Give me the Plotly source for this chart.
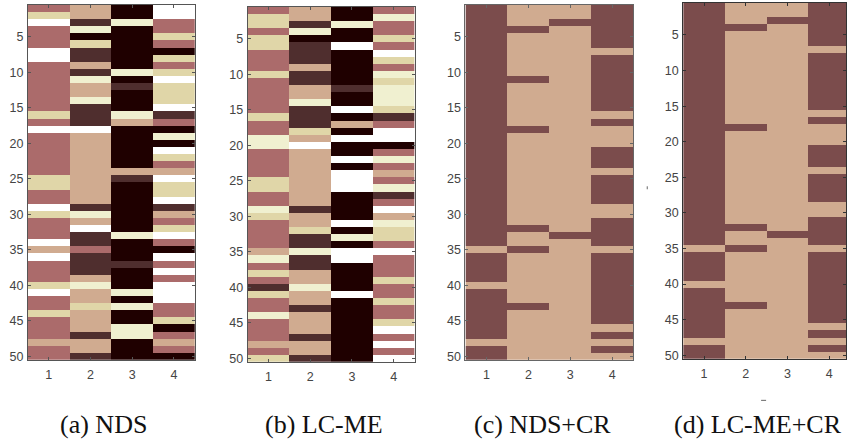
import plotly.graph_objects as go

W, H = 847, 442

# One letter per row (1..50) for each of the four columns.
# B black, D dark, R rose, T tan, K khaki, C cream, W white, M maroon
a_cols = [
    "RKWRRRWWRRRRRRRKRWRRRRRRKKRRWKRRRWTWRRRKWRRKRRRTRR",
    "TTDCBKDDTDCTTCDDDWTTTTTTTTTTDCTWDDRDDDTCTTKTTTDTTD",
    "BBCBBBBBBCBDBBBCTBBBBBBTDBBBBBBBCBBBDBBBCBCBBCCBBB",
    "WWRRKRBKRKWKKKWDRBCBWKRTWKKWDTRKWRBWRWRWWWRRKBRTRB",
]
b_cols = [
    "RKKRKKRRRKRRRRRKRRCCRRRRKKRRCKRRRRTCRKRDKRRCRRRTRK",
    "TTDCBDDDTDDTTCDDDKTWTTTTTTTTDTTKDDCDDTTCTTDTTTDTTD",
    "BBCBBWBBBBBDBBWBTBWBBWBWWWBBBBWBCBWWBBBBWBBBBBBBBB",
    "RCRRKRWKRCKCCCKDRWWBRCRTRCDRWTCKKRWRRRKRRKRRKWRWRW",
]
c_cols = [
    "MMMMMMMMMMMMMMMMMMMMMMMMMMMMMMMMMMTMMMMTMMMMMMMTMM",
    "TTTMTTTTTTMTTTTTTMTTTTTTTTTTTTTMTTMTTTTTTTMTTTTTTT",
    "TTMTTTTTTTTTTTTTTTTTTTTTTTTTTTTTMTTTTTTTTTTTTTTTTT",
    "MMMMMMTMMMMMMMMTMTTTMMMTMMMMTTMMMMTMMMMMMMMMMTMTMT",
]
d_cols = [
    "MMMMMMMMMMMMMMMMMMMMMMMMMMMMMMMMMMTMMMMTMMMMMMMTMM",
    "TTTMTTTTTTTTTTTTTMTTTTTTTTTTTTTMTTMTTTTTTTMTTTTTTT",
    "TTMTTTTTTTTTTTTTTTTTTTTTTTTTTTTTMTTTTTTTTTTTTTTTTT",
    "MMMMMMTMMMMMMMMTMTTTMMMTMMMMTTMMMMTMMMMMMMMMMTMTMT",
]
captions = ["(a) NDS", "(b) LC-ME", "(c) NDS+CR", "(d) LC-ME+CR"]
x_ticks = [1, 2, 3, 4]
y_ticks = [5, 10, 15, 20, 25, 30, 35, 40, 45, 50]
rows = list(range(1, 51))

levels = "BDMRTKCW"
colors = ["#1f0000", "#4f2e2e", "#7b4c4c", "#ab6b6b", "#d0ab90", "#e0d6a8", "#f0f0d0", "#ffffff"]
n = len(levels)
scale = []
for i, c in enumerate(colors):
    scale += [[i / n, c], [(i + 1) / n, c]]

# left, right, top, bottom (px), x upper limit, axis colour, caption centre
panels = [
    (a_cols, 28, 195, 5, 363, 4.5, "#555555", 104),
    (b_cols, 248, 415, 7, 365, 4.5, "#555555", 324),
    (c_cols, 466, 634, 5, 363, 4.5, "#666666", 543),
    (d_cols, 684, 847, 3, 362, 4.4, "#333333", 759),
]

fig = go.Figure()
for k, (cols, l, r, t, b, xmax, ac, cx) in enumerate(panels):
    for col in cols:
        assert len(col) == 50
    z = [[levels.index(cols[j][i]) for j in range(4)] for i in range(50)]
    s = "" if k == 0 else str(k + 1)
    fig.add_trace(go.Heatmap(z=z, x=x_ticks, y=rows, colorscale=scale, zmin=0, zmax=n,
                             showscale=False, xaxis="x" + s, yaxis="y" + s, hoverinfo="skip"))
    axis = dict(ticks="inside", ticklen=3, tickwidth=1, tickcolor=ac, showline=True, linecolor=ac,
                linewidth=1, mirror="ticks", showgrid=False, zeroline=False,
                tickfont=dict(family="Liberation Sans", size=12.5, color="#444444"))
    fig.layout["xaxis" + s] = dict(axis, domain=[l / W, r / W], range=[0.5, xmax], tickvals=x_ticks,
                                   anchor="y" + s, ticklabelstandoff=3)
    fig.layout["yaxis" + s] = dict(axis, domain=[1 - b / H, 1 - t / H], range=[50.5, 0.5], tickvals=y_ticks,
                                   anchor="x" + s, ticklabelstandoff=1)
    fig.add_annotation(text=captions[k], x=cx / W, y=1 - 428 / H, xref="paper", yref="paper",
                       showarrow=False, xanchor="center", yanchor="middle",
                       font=dict(family="Liberation Serif", size=26, color="#111111"))

fig.update_layout(width=W, height=H, margin=dict(l=0, r=0, t=0, b=0), autosize=False,
                  paper_bgcolor="white", plot_bgcolor="white", showlegend=False)
fig.add_shape(type="line", xref="paper", yref="paper", x0=648 / W, x1=648 / W, y0=1 - 188 / H, y1=1 - 191 / H,
              line=dict(color="#666666", width=1))
fig.add_shape(type="line", xref="paper", yref="paper", x0=762 / W, x1=767 / W, y0=1 - 404 / H, y1=1 - 404 / H,
              line=dict(color="#666666", width=1))
fig.write_html("out.html", config={"displayModeBar": False},
               post_script="document.body.style.margin='0';document.body.style.overflow='hidden';")
